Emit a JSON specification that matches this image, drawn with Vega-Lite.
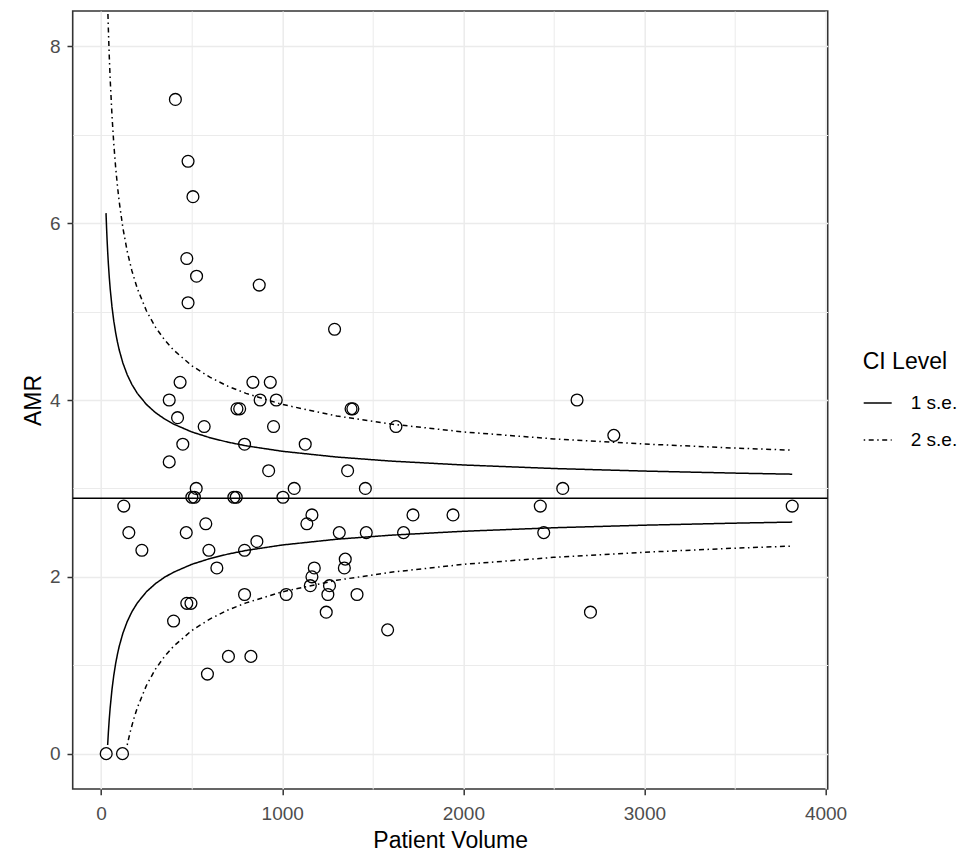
{
  "$schema": "https://vega.github.io/schema/vega-lite/v6.json",
  "width": 755,
  "height": 778,
  "autosize": {"type": "none"},
  "padding": {"left": 72.7, "top": 11, "right": 144.3, "bottom": 70},
  "background": "white",
  "datasets": {
    "hospitals": [
      {"volume": 28, "amr": 0.0}, {"volume": 118, "amr": 0.0}, {"volume": 125, "amr": 2.8},
      {"volume": 153, "amr": 2.5}, {"volume": 225, "amr": 2.3}, {"volume": 376, "amr": 4.0},
      {"volume": 376, "amr": 3.3}, {"volume": 400, "amr": 1.5}, {"volume": 410, "amr": 7.4},
      {"volume": 422, "amr": 3.8}, {"volume": 436, "amr": 4.2}, {"volume": 451, "amr": 3.5},
      {"volume": 470, "amr": 2.5}, {"volume": 473, "amr": 1.7}, {"volume": 473, "amr": 5.6},
      {"volume": 480, "amr": 6.7}, {"volume": 480, "amr": 5.1}, {"volume": 496, "amr": 1.7},
      {"volume": 501, "amr": 2.9}, {"volume": 507, "amr": 6.3}, {"volume": 515, "amr": 2.9},
      {"volume": 525, "amr": 3.0}, {"volume": 527, "amr": 5.4}, {"volume": 569, "amr": 3.7},
      {"volume": 578, "amr": 2.6}, {"volume": 587, "amr": 0.9}, {"volume": 595, "amr": 2.3},
      {"volume": 639, "amr": 2.1}, {"volume": 703, "amr": 1.1}, {"volume": 733, "amr": 2.9},
      {"volume": 746, "amr": 2.9}, {"volume": 750, "amr": 3.9}, {"volume": 765, "amr": 3.9},
      {"volume": 792, "amr": 3.5}, {"volume": 792, "amr": 2.3}, {"volume": 792, "amr": 1.8},
      {"volume": 827, "amr": 1.1}, {"volume": 838, "amr": 4.2}, {"volume": 860, "amr": 2.4},
      {"volume": 873, "amr": 5.3}, {"volume": 878, "amr": 4.0}, {"volume": 925, "amr": 3.2},
      {"volume": 934, "amr": 4.2}, {"volume": 952, "amr": 3.7}, {"volume": 967, "amr": 4.0},
      {"volume": 1004, "amr": 2.9}, {"volume": 1022, "amr": 1.8}, {"volume": 1066, "amr": 3.0},
      {"volume": 1127, "amr": 3.5}, {"volume": 1136, "amr": 2.6}, {"volume": 1155, "amr": 1.9},
      {"volume": 1164, "amr": 2.0}, {"volume": 1164, "amr": 2.7}, {"volume": 1177, "amr": 2.1},
      {"volume": 1243, "amr": 1.6}, {"volume": 1252, "amr": 1.8}, {"volume": 1261, "amr": 1.9},
      {"volume": 1289, "amr": 4.8}, {"volume": 1315, "amr": 2.5}, {"volume": 1343, "amr": 2.1},
      {"volume": 1348, "amr": 2.2}, {"volume": 1361, "amr": 3.2}, {"volume": 1380, "amr": 3.9},
      {"volume": 1390, "amr": 3.9}, {"volume": 1413, "amr": 1.8}, {"volume": 1459, "amr": 3.0},
      {"volume": 1464, "amr": 2.5}, {"volume": 1582, "amr": 1.4}, {"volume": 1628, "amr": 3.7},
      {"volume": 1670, "amr": 2.5}, {"volume": 1722, "amr": 2.7}, {"volume": 1943, "amr": 2.7},
      {"volume": 2425, "amr": 2.8}, {"volume": 2444, "amr": 2.5}, {"volume": 2549, "amr": 3.0},
      {"volume": 2628, "amr": 4.0}, {"volume": 2702, "amr": 1.6}, {"volume": 2831, "amr": 3.6},
      {"volume": 3816, "amr": 2.8}
    ],
    "limits": [
      {"volume": 27, "amr": 6.114, "level": "1 s.e.", "curve": "1u"},
      {"volume": 30, "amr": 5.949, "level": "1 s.e.", "curve": "1u"},
      {"volume": 33, "amr": 5.806, "level": "1 s.e.", "curve": "1u"},
      {"volume": 36, "amr": 5.682, "level": "1 s.e.", "curve": "1u"},
      {"volume": 40, "amr": 5.539, "level": "1 s.e.", "curve": "1u"},
      {"volume": 45, "amr": 5.387, "level": "1 s.e.", "curve": "1u"},
      {"volume": 50, "amr": 5.259, "level": "1 s.e.", "curve": "1u"},
      {"volume": 60, "amr": 5.053, "level": "1 s.e.", "curve": "1u"},
      {"volume": 70, "amr": 4.892, "level": "1 s.e.", "curve": "1u"},
      {"volume": 80, "amr": 4.763, "level": "1 s.e.", "curve": "1u"},
      {"volume": 90, "amr": 4.656, "level": "1 s.e.", "curve": "1u"},
      {"volume": 100, "amr": 4.565, "level": "1 s.e.", "curve": "1u"},
      {"volume": 120, "amr": 4.419, "level": "1 s.e.", "curve": "1u"},
      {"volume": 144, "amr": 4.286, "level": "1 s.e.", "curve": "1u"},
      {"volume": 170, "amr": 4.175, "level": "1 s.e.", "curve": "1u"},
      {"volume": 200, "amr": 4.075, "level": "1 s.e.", "curve": "1u"},
      {"volume": 250, "amr": 3.950, "level": "1 s.e.", "curve": "1u"},
      {"volume": 300, "amr": 3.857, "level": "1 s.e.", "curve": "1u"},
      {"volume": 350, "amr": 3.786, "level": "1 s.e.", "curve": "1u"},
      {"volume": 400, "amr": 3.728, "level": "1 s.e.", "curve": "1u"},
      {"volume": 500, "amr": 3.639, "level": "1 s.e.", "curve": "1u"},
      {"volume": 600, "amr": 3.574, "level": "1 s.e.", "curve": "1u"},
      {"volume": 700, "amr": 3.523, "level": "1 s.e.", "curve": "1u"},
      {"volume": 800, "amr": 3.482, "level": "1 s.e.", "curve": "1u"},
      {"volume": 1000, "amr": 3.420, "level": "1 s.e.", "curve": "1u"},
      {"volume": 1300, "amr": 3.355, "level": "1 s.e.", "curve": "1u"},
      {"volume": 1600, "amr": 3.309, "level": "1 s.e.", "curve": "1u"},
      {"volume": 2000, "amr": 3.265, "level": "1 s.e.", "curve": "1u"},
      {"volume": 2500, "amr": 3.225, "level": "1 s.e.", "curve": "1u"},
      {"volume": 3000, "amr": 3.196, "level": "1 s.e.", "curve": "1u"},
      {"volume": 3500, "amr": 3.173, "level": "1 s.e.", "curve": "1u"},
      {"volume": 3816, "amr": 3.161, "level": "1 s.e.", "curve": "1u"},

      {"volume": 36, "amr": 0.098, "level": "1 s.e.", "curve": "1l"},
      {"volume": 40, "amr": 0.241, "level": "1 s.e.", "curve": "1l"},
      {"volume": 45, "amr": 0.393, "level": "1 s.e.", "curve": "1l"},
      {"volume": 50, "amr": 0.521, "level": "1 s.e.", "curve": "1l"},
      {"volume": 60, "amr": 0.727, "level": "1 s.e.", "curve": "1l"},
      {"volume": 70, "amr": 0.888, "level": "1 s.e.", "curve": "1l"},
      {"volume": 80, "amr": 1.017, "level": "1 s.e.", "curve": "1l"},
      {"volume": 90, "amr": 1.124, "level": "1 s.e.", "curve": "1l"},
      {"volume": 100, "amr": 1.215, "level": "1 s.e.", "curve": "1l"},
      {"volume": 120, "amr": 1.361, "level": "1 s.e.", "curve": "1l"},
      {"volume": 144, "amr": 1.494, "level": "1 s.e.", "curve": "1l"},
      {"volume": 170, "amr": 1.605, "level": "1 s.e.", "curve": "1l"},
      {"volume": 200, "amr": 1.705, "level": "1 s.e.", "curve": "1l"},
      {"volume": 250, "amr": 1.831, "level": "1 s.e.", "curve": "1l"},
      {"volume": 300, "amr": 1.923, "level": "1 s.e.", "curve": "1l"},
      {"volume": 350, "amr": 1.995, "level": "1 s.e.", "curve": "1l"},
      {"volume": 400, "amr": 2.052, "level": "1 s.e.", "curve": "1l"},
      {"volume": 500, "amr": 2.141, "level": "1 s.e.", "curve": "1l"},
      {"volume": 600, "amr": 2.206, "level": "1 s.e.", "curve": "1l"},
      {"volume": 700, "amr": 2.257, "level": "1 s.e.", "curve": "1l"},
      {"volume": 800, "amr": 2.298, "level": "1 s.e.", "curve": "1l"},
      {"volume": 1000, "amr": 2.360, "level": "1 s.e.", "curve": "1l"},
      {"volume": 1300, "amr": 2.425, "level": "1 s.e.", "curve": "1l"},
      {"volume": 1600, "amr": 2.471, "level": "1 s.e.", "curve": "1l"},
      {"volume": 2000, "amr": 2.515, "level": "1 s.e.", "curve": "1l"},
      {"volume": 2500, "amr": 2.555, "level": "1 s.e.", "curve": "1l"},
      {"volume": 3000, "amr": 2.584, "level": "1 s.e.", "curve": "1l"},
      {"volume": 3500, "amr": 2.607, "level": "1 s.e.", "curve": "1l"},
      {"volume": 3816, "amr": 2.619, "level": "1 s.e.", "curve": "1l"},

      {"volume": 27, "amr": 9.338, "level": "2 s.e.", "curve": "2u"},
      {"volume": 30, "amr": 9.008, "level": "2 s.e.", "curve": "2u"},
      {"volume": 33, "amr": 8.722, "level": "2 s.e.", "curve": "2u"},
      {"volume": 36, "amr": 8.474, "level": "2 s.e.", "curve": "2u"},
      {"volume": 40, "amr": 8.188, "level": "2 s.e.", "curve": "2u"},
      {"volume": 45, "amr": 7.884, "level": "2 s.e.", "curve": "2u"},
      {"volume": 50, "amr": 7.628, "level": "2 s.e.", "curve": "2u"},
      {"volume": 60, "amr": 7.216, "level": "2 s.e.", "curve": "2u"},
      {"volume": 70, "amr": 6.894, "level": "2 s.e.", "curve": "2u"},
      {"volume": 80, "amr": 6.636, "level": "2 s.e.", "curve": "2u"},
      {"volume": 90, "amr": 6.422, "level": "2 s.e.", "curve": "2u"},
      {"volume": 100, "amr": 6.240, "level": "2 s.e.", "curve": "2u"},
      {"volume": 120, "amr": 5.948, "level": "2 s.e.", "curve": "2u"},
      {"volume": 144, "amr": 5.682, "level": "2 s.e.", "curve": "2u"},
      {"volume": 170, "amr": 5.460, "level": "2 s.e.", "curve": "2u"},
      {"volume": 200, "amr": 5.260, "level": "2 s.e.", "curve": "2u"},
      {"volume": 250, "amr": 5.009, "level": "2 s.e.", "curve": "2u"},
      {"volume": 300, "amr": 4.824, "level": "2 s.e.", "curve": "2u"},
      {"volume": 350, "amr": 4.681, "level": "2 s.e.", "curve": "2u"},
      {"volume": 400, "amr": 4.565, "level": "2 s.e.", "curve": "2u"},
      {"volume": 500, "amr": 4.388, "level": "2 s.e.", "curve": "2u"},
      {"volume": 600, "amr": 4.258, "level": "2 s.e.", "curve": "2u"},
      {"volume": 700, "amr": 4.156, "level": "2 s.e.", "curve": "2u"},
      {"volume": 800, "amr": 4.075, "level": "2 s.e.", "curve": "2u"},
      {"volume": 1000, "amr": 3.950, "level": "2 s.e.", "curve": "2u"},
      {"volume": 1300, "amr": 3.819, "level": "2 s.e.", "curve": "2u"},
      {"volume": 1600, "amr": 3.728, "level": "2 s.e.", "curve": "2u"},
      {"volume": 2000, "amr": 3.639, "level": "2 s.e.", "curve": "2u"},
      {"volume": 2500, "amr": 3.560, "level": "2 s.e.", "curve": "2u"},
      {"volume": 3000, "amr": 3.502, "level": "2 s.e.", "curve": "2u"},
      {"volume": 3500, "amr": 3.456, "level": "2 s.e.", "curve": "2u"},
      {"volume": 3816, "amr": 3.432, "level": "2 s.e.", "curve": "2u"},

      {"volume": 144, "amr": 0.098, "level": "2 s.e.", "curve": "2l"},
      {"volume": 160, "amr": 0.241, "level": "2 s.e.", "curve": "2l"},
      {"volume": 180, "amr": 0.392, "level": "2 s.e.", "curve": "2l"},
      {"volume": 200, "amr": 0.520, "level": "2 s.e.", "curve": "2l"},
      {"volume": 250, "amr": 0.771, "level": "2 s.e.", "curve": "2l"},
      {"volume": 300, "amr": 0.956, "level": "2 s.e.", "curve": "2l"},
      {"volume": 350, "amr": 1.099, "level": "2 s.e.", "curve": "2l"},
      {"volume": 400, "amr": 1.215, "level": "2 s.e.", "curve": "2l"},
      {"volume": 500, "amr": 1.392, "level": "2 s.e.", "curve": "2l"},
      {"volume": 600, "amr": 1.522, "level": "2 s.e.", "curve": "2l"},
      {"volume": 700, "amr": 1.624, "level": "2 s.e.", "curve": "2l"},
      {"volume": 800, "amr": 1.705, "level": "2 s.e.", "curve": "2l"},
      {"volume": 1000, "amr": 1.830, "level": "2 s.e.", "curve": "2l"},
      {"volume": 1300, "amr": 1.961, "level": "2 s.e.", "curve": "2l"},
      {"volume": 1600, "amr": 2.052, "level": "2 s.e.", "curve": "2l"},
      {"volume": 2000, "amr": 2.141, "level": "2 s.e.", "curve": "2l"},
      {"volume": 2500, "amr": 2.220, "level": "2 s.e.", "curve": "2l"},
      {"volume": 3000, "amr": 2.278, "level": "2 s.e.", "curve": "2l"},
      {"volume": 3500, "amr": 2.324, "level": "2 s.e.", "curve": "2l"},
      {"volume": 3816, "amr": 2.348, "level": "2 s.e.", "curve": "2l"}
    ],
    "centre": [{"amr": 2.89}]
  },
  "config": {
    "font": "Liberation Sans",
    "view": {"stroke": "#333333", "strokeWidth": 1.6, "fill": "white"},
    "axis": {
      "domain": false,
      "labelFont": "Liberation Sans",
      "labelFontSize": 19,
      "labelColor": "#4D4D4D",
      "tickColor": "#333333",
      "tickWidth": 1.5,
      "tickSize": 5.7,
      "gridColor": "#EBEBEB",
      "titleFont": "Liberation Sans",
      "titleFontSize": 23,
      "titleFontWeight": "normal",
      "titleColor": "black",
      "labelOverlap": false
    },
    "legend": {
      "titleFont": "Liberation Sans",
      "titleFontSize": 23,
      "titleFontWeight": "normal",
      "titleColor": "black",
      "labelFont": "Liberation Sans",
      "labelFontSize": 19,
      "labelColor": "black",
      "symbolType": "stroke",
      "symbolSize": 784,
      "symbolStrokeWidth": 1.5,
      "symbolStrokeColor": "black",
      "labelOffset": 18,
      "rowPadding": 12,
      "titlePadding": 14
    }
  },
  "layer": [
    {
      "data": {"name": "centre"},
      "mark": {"type": "rule", "color": "black", "strokeWidth": 1.5},
      "encoding": {
        "y": {"field": "amr", "type": "quantitative", "scale": {"domain": [-0.4, 8.4], "nice": false, "zero": false}}
      }
    },
    {
      "data": {"name": "limits"},
      "mark": {"type": "line", "color": "black", "strokeWidth": 1.5, "clip": true},
      "encoding": {
        "x": {"field": "volume", "type": "quantitative", "scale": {"domain": [-157, 4012], "nice": false, "zero": false}},
        "y": {"field": "amr", "type": "quantitative", "scale": {"domain": [-0.4, 8.4], "nice": false, "zero": false}},
        "detail": {"field": "curve"},
        "strokeDash": {
          "field": "level",
          "type": "nominal",
          "scale": {"domain": ["1 s.e.", "2 s.e."], "range": [[1, 0], [1.5, 3.5, 5, 3.5]]},
          "legend": {"title": "CI Level", "orient": "none", "legendX": 790, "legendY": 340}
        }
      }
    },
    {
      "data": {"name": "hospitals"},
      "mark": {"type": "point", "shape": "circle", "filled": false, "color": "black", "strokeWidth": 1.3, "size": 140, "opacity": 1},
      "encoding": {
        "x": {
          "field": "volume", "type": "quantitative", "title": "Patient Volume",
          "scale": {"domain": [-157, 4012], "nice": false, "zero": false},
          "axis": {
            "values": [0, 500, 1000, 1500, 2000, 2500, 3000, 3500, 4000],
            "format": "d",
            "labelExpr": "datum.value % 1000 === 0 ? datum.label : ''",
            "tickOpacity": {"condition": {"test": "datum.value % 1000 !== 0", "value": 0}, "value": 1},
            "gridWidth": {"condition": {"test": "datum.value % 1000 !== 0", "value": 1}, "value": 1.5},
            "labelPadding": 10,
            "titlePadding": 6
          }
        },
        "y": {
          "field": "amr", "type": "quantitative", "title": "AMR",
          "scale": {"domain": [-0.4, 8.4], "nice": false, "zero": false},
          "axis": {
            "values": [0, 1, 2, 3, 4, 5, 6, 7, 8],
            "format": "d",
            "labelExpr": "datum.value % 2 === 0 ? datum.label : ''",
            "tickOpacity": {"condition": {"test": "datum.value % 2 !== 0", "value": 0}, "value": 1},
            "gridWidth": {"condition": {"test": "datum.value % 2 !== 0", "value": 1}, "value": 1.5},
            "labelPadding": 7,
            "titlePadding": 4
          }
        }
      }
    }
  ]
}
